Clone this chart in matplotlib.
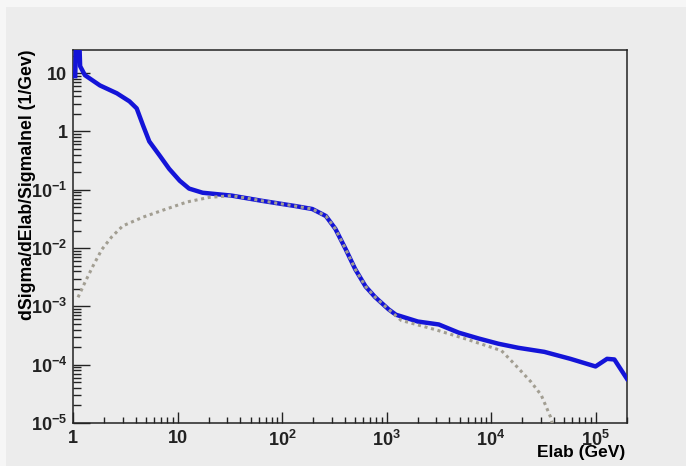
import numpy as np
import matplotlib
matplotlib.use("Agg")
import matplotlib.pyplot as plt
from matplotlib.ticker import LogLocator, FuncFormatter, NullFormatter
from matplotlib.patches import Rectangle

plt.rcParams['font.family'] = ['Liberation Sans', 'DejaVu Sans']
plt.rcParams['font.weight'] = 'bold'
plt.rcParams['mathtext.fontset'] = 'custom'
plt.rcParams['mathtext.rm'] = 'Liberation Sans:bold'
plt.rcParams['mathtext.it'] = 'Liberation Sans:bold'
plt.rcParams['mathtext.bf'] = 'Liberation Sans:bold'

# total spectrum (solid blue)
e_tot = [1.05, 1.07, 1.15, 1.17, 1.30, 1.81, 2.63, 3.47, 4.07, 4.68, 5.37, 6.76,
         8.32, 10.5, 12.9, 17.4, 33.1, 64.6, 135, 195, 263, 324, 407, 501, 631,
         776, 1047, 1230, 1995, 3162, 4898, 7586, 11750, 18200, 32400, 57500,
         100000, 128800, 151400, 199500]
v_tot = [8.9, 35, 35, 13.2, 9.25, 6.17, 4.52, 3.29, 2.49, 1.27, 0.676, 0.385,
         0.229, 0.143, 0.105, 0.089, 0.0794, 0.0646, 0.0525, 0.0468, 0.0355,
         0.0214, 0.00955, 0.00437, 0.00219, 0.00145, 0.00089, 0.00072, 0.00055,
         0.00049, 0.000355, 0.000282, 0.000229, 0.000195, 0.000166, 0.000126,
         0.0000933, 0.000126, 0.000123, 0.0000575]

# partial contribution (grey dotted)
e_part = [1.117, 1.30, 1.55, 1.89, 2.34, 2.99, 4.68, 7.85, 12.4, 20, 33.1, 64.6,
          135, 195, 263, 324, 407, 501, 631, 776, 1047, 1380, 2951, 6026, 12590,
          16980, 23990, 30200, 37150, 39800]
v_part = [0.00143, 0.00257, 0.0049, 0.0095, 0.0155, 0.024, 0.034, 0.047, 0.062,
          0.074, 0.0794, 0.0646, 0.0525, 0.0468, 0.0355, 0.0214, 0.00955, 0.00437,
          0.00219, 0.00145, 0.00089, 0.000575, 0.000398, 0.000269, 0.000174,
          0.0001, 0.0000513, 0.0000302, 0.0000126, 0.0000079]

bg = '#ececec'
fig = plt.figure(figsize=(6.86, 4.66), dpi=100, facecolor=bg)
fig.add_artist(Rectangle((0, 1 - 7 / 466), 1, 7 / 466, transform=fig.transFigure,
                         color='#f6f6f6', lw=0, zorder=0))
fig.add_artist(Rectangle((0, 0), 6 / 686, 1, transform=fig.transFigure,
                         color='#f6f6f6', lw=0, zorder=0))
ax = fig.add_axes([73 / 686, 1 - 423 / 466, 554 / 686, 373 / 466])
ax.set_facecolor(bg)

ax.plot(e_tot, v_tot, color='#1414d8', lw=3.2, solid_joinstyle='round', zorder=3)
ax.plot(e_part, v_part, color='#a29e92', lw=2.2, ls=(0, (1, 1.2)), zorder=4)

ax.set_xscale('log')
ax.set_yscale('log')
ax.set_xlim(1, 2e5)
ax.set_ylim(1e-5, 25)

def fmt(v, pos):
    p = int(round(np.log10(v)))
    if p == 0:
        return '1'
    if p == 1:
        return '10'
    return r'$10^{%d}$' % p

ax.xaxis.set_major_locator(LogLocator(base=10, numticks=20))
ax.yaxis.set_major_locator(LogLocator(base=10, numticks=20))
ax.xaxis.set_minor_locator(LogLocator(base=10, subs=np.arange(2, 10), numticks=100))
ax.yaxis.set_minor_locator(LogLocator(base=10, subs=np.arange(2, 10), numticks=100))
ax.xaxis.set_major_formatter(FuncFormatter(fmt))
ax.yaxis.set_major_formatter(FuncFormatter(fmt))
ax.xaxis.set_minor_formatter(NullFormatter())
ax.yaxis.set_minor_formatter(NullFormatter())

ax.tick_params(axis='both', which='both', direction='in', colors='#222222',
               top=False, right=False, labelsize=13, width=1)
ax.tick_params(axis='x', which='major', length=8, pad=5)
ax.tick_params(axis='x', which='minor', length=4.3)
ax.tick_params(axis='y', which='major', length=12, pad=4)
ax.tick_params(axis='y', which='minor', length=5.8)
for sp in ax.spines.values():
    sp.set_color('#222222')
    sp.set_linewidth(1.1)

ax.set_ylabel('dSigma/dElab/SigmaInel (1/Gev)', fontsize=12.7, fontweight='bold',
              loc='top')
ax.yaxis.set_label_coords(-0.067, 1.0)
fig.text(625 / 686, 1 - 452 / 466, 'Elab (GeV)', ha='right', va='center',
         fontsize=12.5, fontweight='bold')

fig.savefig('out.png', dpi=100, facecolor=bg)
